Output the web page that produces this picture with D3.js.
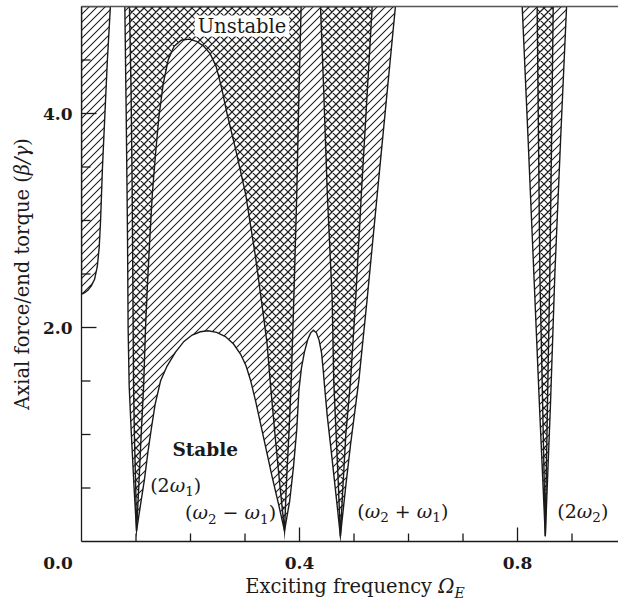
<!DOCTYPE html>
<html><head><meta charset="utf-8">
<script src="https://cdn.jsdelivr.net/npm/d3@7/dist/d3.min.js"></script>
<style>body{margin:0;background:#fff}svg{display:block}</style>
</head><body>
<svg id="c" width="618" height="608"></svg>
<script>
// ---- data (X = exciting frequency, Y = axial force / end torque) ----
const leftEdge = [[0.053,5.0],[0.0475,4.5],[0.043,4.0],[0.0385,3.5],[0.035,3.0],[0.0325,2.75],[0.029,2.57],[0.024,2.45],[0.018,2.39],[0.012,2.35],[0.006,2.325],[0.0,2.31]];
const b1OuterLeft = [[0.101,0.1],[0.0965,0.5],[0.0915,1.0],[0.0875,1.45],[0.0855,2.0],[0.0845,2.8],[0.0835,3.3],[0.082,4.0],[0.0795,5.0]];
const b1CrossLeft = [[0.101,0.1],[0.0995,0.5],[0.097,1.0],[0.0955,1.45],[0.0945,2.2],[0.093,3.3],[0.091,4.2],[0.088,5.0]];
const b1CrossRight = [[0.101,0.1],[0.105,0.5],[0.1095,1.0],[0.114,1.45],[0.1175,2.0],[0.121,2.4],[0.125,2.8],[0.130,3.25],[0.1355,3.6],[0.142,3.97],[0.150,4.28],[0.159,4.5],[0.170,4.63],[0.183,4.685],[0.197,4.695]];
const mountainRight = [[0.197,4.695],[0.211,4.675],[0.224,4.63],[0.236,4.56],[0.247,4.44],[0.257,4.24],[0.267,4.0],[0.283,3.66],[0.301,3.25],[0.319,2.67],[0.3315,2.2],[0.3405,1.85],[0.347,1.45],[0.355,1.0],[0.3635,0.55],[0.3725,0.1]];
const arch = [[0.101,0.1],[0.1085,0.35],[0.1155,0.58],[0.122,0.84],[0.128,1.05],[0.135,1.28],[0.145,1.5],[0.157,1.64],[0.1725,1.77],[0.188,1.87],[0.203,1.93],[0.218,1.96],[0.232,1.97],[0.248,1.955],[0.264,1.915],[0.279,1.845],[0.292,1.75],[0.302,1.64],[0.310,1.51],[0.320,1.30],[0.335,0.95],[0.350,0.6],[0.3615,0.35],[0.3725,0.1]];
const b2CrossRight = [[0.3725,0.1],[0.3765,0.6],[0.3805,1.0],[0.3845,1.45],[0.3895,2.26],[0.395,3.25],[0.399,4.2],[0.403,5.0]];
const b2OuterRight = [[0.3725,0.1],[0.382,0.38],[0.389,0.7],[0.395,1.05],[0.399,1.42],[0.4035,1.62],[0.409,1.77],[0.415,1.885],[0.4205,1.95],[0.4255,1.975]];
const b3OuterLeft = [[0.4255,1.975],[0.431,1.95],[0.436,1.88],[0.4405,1.76],[0.4435,1.6],[0.446,1.45],[0.451,1.17],[0.457,0.9],[0.463,0.62],[0.469,0.34],[0.475,0.05]];
const b3CrossLeft = [[0.475,0.05],[0.4715,0.5],[0.4672,1.0],[0.4628,1.5],[0.46,2.26],[0.451,3.25],[0.4445,4.2],[0.4385,5.0]];
const b3CrossRight = [[0.475,0.05],[0.4795,0.5],[0.485,1.0],[0.4936,1.5],[0.503,2.26],[0.5135,3.25],[0.5334,5.0]];
const b3OuterRight = [[0.475,0.05],[0.4845,0.5],[0.4935,0.9],[0.509,1.51],[0.524,2.26],[0.5505,3.66],[0.576,5.0]];
const b4OuterLeft = [[0.851,0.05],[0.840,1.3],[0.830,2.5],[0.8195,3.75],[0.8086,5.0]];
const b4CrossLeft = [[0.851,0.05],[0.846,1.3],[0.841,2.5],[0.8385,3.75],[0.836,5.0]];
const b4CrossRight = [[0.851,0.05],[0.855,1.3],[0.8593,2.5],[0.8625,3.75],[0.8655,5.0]];
const b4OuterRight = [[0.851,0.05],[0.8606,1.3],[0.8685,2.5],[0.879,3.75],[0.89,5.0]];

const xMajorTicks = [0.4, 0.8];
const xMinorTicks = [0.1, 0.2, 0.3, 0.5, 0.6, 0.7, 0.9];
const yMajorTicks = [2.0, 4.0];
const yMinorTicks = [0.5, 1.0, 1.5, 2.5, 3.0, 3.5, 4.5];
const xTickValues = [0.0, 0.4, 0.8];
const xTickLabels = ["0.0", "0.4", "0.8"];
const yTickValues = [2.0, 4.0];
const yTickLabels = ["2.0", "4.0"];

// ---- scales ----
const X_MAX = 0.984, Y_MAX = 5.0;
const x = d3.scaleLinear().domain([0, X_MAX]).range([81.5, 617.8]);
const y = d3.scaleLinear().domain([0, Y_MAX]).range([541.5, 6.5]);

const svg = d3.select("#c");
const defs = svg.append("defs");
const ink = "#1a1a1a";

const hatch = defs.append("pattern").attr("id","hatch").attr("patternUnits","userSpaceOnUse")
  .attr("width",8).attr("height",8);
hatch.append("path").attr("d","M-2,2 L2,-2 M0,8 L8,0 M6,10 L10,6")
  .attr("stroke",ink).attr("stroke-width",1.05).attr("fill","none");
const cross = defs.append("pattern").attr("id","cross").attr("patternUnits","userSpaceOnUse")
  .attr("width",8).attr("height",8);
cross.append("path").attr("d","M-2,2 L2,-2 M0,8 L8,0 M6,10 L10,6 M-2,6 L2,10 M0,0 L8,8 M6,-2 L10,2")
  .attr("stroke",ink).attr("stroke-width",1.05).attr("fill","none");

defs.append("clipPath").attr("id","plotclip").append("rect")
  .attr("x", x(0)).attr("y", y(Y_MAX)).attr("width", x(X_MAX)-x(0)).attr("height", y(0)-y(Y_MAX));

const rev = a => a.slice().reverse();
const poly = d3.line().x(d => x(d[0])).y(d => y(d[1])).curve(d3.curveLinearClosed);

const hatchedRegions = [
  [[0,5.0], ...leftEdge],
  [...b1OuterLeft, ...rev(b3OuterRight), ...rev(b3OuterLeft), ...rev(b2OuterRight), ...rev(arch)],
  [...b4OuterLeft, ...rev(b4OuterRight)]
];
const crossRegions = [
  [...b1CrossLeft, ...rev(b2CrossRight), ...rev(mountainRight), ...rev(b1CrossRight)],
  [...b3CrossLeft, ...rev(b3CrossRight)],
  [...b4CrossLeft, ...rev(b4CrossRight)]
];

const plot = svg.append("g").attr("clip-path","url(#plotclip)");
plot.selectAll("path.h").data(hatchedRegions).join("path").attr("class","h")
  .attr("d", poly).attr("fill","url(#hatch)").attr("stroke",ink).attr("stroke-width",1.4)
  .attr("stroke-linejoin","miter").attr("stroke-miterlimit",20);
plot.selectAll("path.x").data(crossRegions).join("path").attr("class","x")
  .attr("d", poly).attr("fill","url(#cross)").attr("stroke",ink).attr("stroke-width",1.4)
  .attr("stroke-linejoin","miter").attr("stroke-miterlimit",20);

// ---- frame / axes ----
const ax = svg.append("g");
ax.append("line").attr("x1", x(0)).attr("x2", 618).attr("y1", y(Y_MAX)).attr("y2", y(Y_MAX))
  .attr("stroke","#555").attr("stroke-width",1.3);
ax.append("line").attr("x1", x(0)).attr("x2", x(0)).attr("y1", y(Y_MAX)).attr("y2", y(0))
  .attr("stroke",ink).attr("stroke-width",1.3);
ax.append("line").attr("x1", x(0)).attr("x2", 618).attr("y1", y(0)).attr("y2", y(0))
  .attr("stroke",ink).attr("stroke-width",1.7);

ax.selectAll("line.xmaj").data(xMajorTicks).join("line").attr("class","xmaj")
  .attr("x1", d=>x(d)).attr("x2", d=>x(d)).attr("y1", y(0)).attr("y2", y(0)-14)
  .attr("stroke",ink).attr("stroke-width",1.3);
ax.selectAll("line.xmin").data(xMinorTicks).join("line").attr("class","xmin")
  .attr("x1", d=>x(d)).attr("x2", d=>x(d)).attr("y1", y(0)).attr("y2", y(0)-8)
  .attr("stroke",ink).attr("stroke-width",1.3);
ax.selectAll("line.ymaj").data(yMajorTicks).join("line").attr("class","ymaj")
  .attr("x1", x(0)).attr("x2", x(0)+15).attr("y1", d=>y(d)).attr("y2", d=>y(d))
  .attr("stroke",ink).attr("stroke-width",1.3);
ax.selectAll("line.ymin").data(yMinorTicks).join("line").attr("class","ymin")
  .attr("x1", x(0)).attr("x2", x(0)+9).attr("y1", d=>y(d)).attr("y2", d=>y(d))
  .attr("stroke",ink).attr("stroke-width",1.3);

const serif = "'DejaVu Serif', 'Liberation Serif', serif";
ax.selectAll("text.xl").data(xTickValues).join("text").attr("class","xl")
  .attr("x", (d,i) => i === 0 ? x(d) - 23.5 : x(d)).attr("y", 568.5)
  .attr("text-anchor","middle").attr("font-family",serif).attr("font-weight","bold")
  .attr("font-size",17).attr("fill",ink).text((d,i)=>xTickLabels[i]);
ax.selectAll("text.yl").data(yTickValues).join("text").attr("class","yl")
  .attr("x", 72.5).attr("y", d=>y(d)+6.5)
  .attr("text-anchor","end").attr("font-family",serif).attr("font-weight","bold")
  .attr("font-size",17).attr("fill",ink).text((d,i)=>yTickLabels[i]);

// x title
const xt = svg.append("text").attr("x", 355).attr("y", 593).attr("text-anchor","middle")
  .attr("font-family",serif).attr("font-size",19.5).attr("fill",ink);
xt.append("tspan").text("Exciting frequency ");
xt.append("tspan").attr("font-style","italic").text("Ω");
xt.append("tspan").attr("font-style","italic").attr("font-size",14).attr("dy",4.5).text("E");

// y title
const yt = svg.append("text").attr("transform","translate(29,274) rotate(-90)").attr("text-anchor","middle")
  .attr("font-family",serif).attr("font-size",19.5).attr("fill",ink);
yt.append("tspan").text("Axial force/end torque (");
yt.append("tspan").attr("font-style","italic").text("β/γ");
yt.append("tspan").text(")");

// annotations
const ann = svg.append("g").attr("font-family",serif).attr("fill",ink);
const ut = ann.append("text").attr("x", x(0.2945)).attr("y", 32.5).attr("text-anchor","middle")
  .attr("font-size",19.5).text("Unstable");
const bb = ut.node().getBBox();
ann.insert("rect","text").attr("x", bb.x-3).attr("y", bb.y+1).attr("width", bb.width+6).attr("height", bb.height-2).attr("fill","#fff");

ann.append("text").attr("x", x(0.227)).attr("y", y(0.8)).attr("text-anchor","middle")
  .attr("font-size",18.5).attr("font-weight","bold").text("Stable");

function mathLabel(px, py, parts) {
  const t = ann.append("text").attr("x", px).attr("y", py).attr("font-size",19);
  parts.forEach(p => {
    const s = t.append("tspan").text(p.t);
    if (p.i) s.attr("font-style","italic");
    if (p.sub) s.attr("font-size",13.5).attr("dy",4.5);
    if (p.up) s.attr("dy",-4.5);
  });
}
mathLabel(x(0.126), y(0.465), [{t:"(2"},{t:"ω",i:1},{t:"1",sub:1},{t:")",up:1}]);
mathLabel(x(0.190), y(0.21), [{t:"("},{t:"ω",i:1},{t:"2",sub:1},{t:" − ",up:1},{t:"ω",i:1},{t:"1",sub:1},{t:")",up:1}]);
mathLabel(x(0.506), y(0.22), [{t:"("},{t:"ω",i:1},{t:"2",sub:1},{t:" + ",up:1},{t:"ω",i:1},{t:"1",sub:1},{t:")",up:1}]);
mathLabel(x(0.873), y(0.22), [{t:"(2"},{t:"ω",i:1},{t:"2",sub:1},{t:")",up:1}]);
</script>
</body></html>
